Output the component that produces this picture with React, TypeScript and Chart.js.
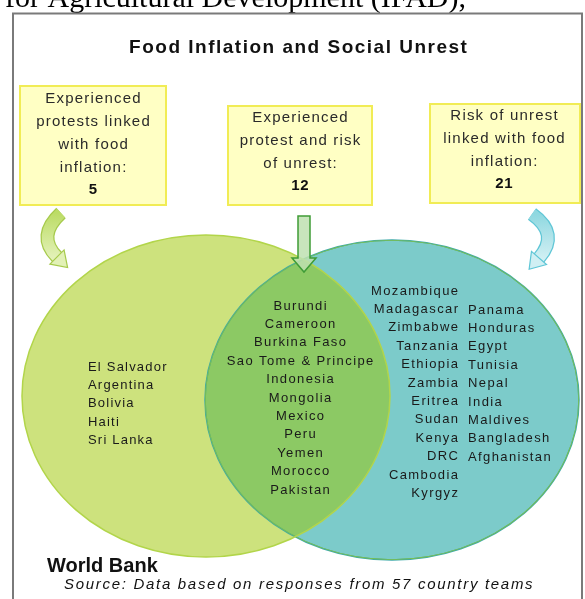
import React, { useEffect, useRef } from "react";
import { Chart, registerables } from "chart.js";

Chart.register(...registerables);

const chartTitle = "Food Inflation and Social Unrest";
const setCounts = [5, 12, 21];
const boxLabels = [
  ["Experienced", "protests linked", "with food", "inflation:"],
  ["Experienced", "protest and risk", "of unrest:"],
  ["Risk of unrest", "linked with food", "inflation:"],
];
const protestOnly = ["El Salvador", "Argentina", "Bolivia", "Haiti", "Sri Lanka"];
const protestAndRisk = [
  "Burundi", "Cameroon", "Burkina Faso", "Sao Tome & Principe", "Indonesia",
  "Mongolia", "Mexico", "Peru", "Yemen", "Morocco", "Pakistan",
];
const riskOnlyA = [
  "Mozambique", "Madagascar", "Zimbabwe", "Tanzania", "Ethiopia", "Zambia",
  "Eritrea", "Sudan", "Kenya", "DRC", "Cambodia", "Kyrgyz",
];
const riskOnlyB = [
  "Panama", "Honduras", "Egypt", "Tunisia", "Nepal", "India", "Maldives",
  "Bangladesh", "Afghanistan",
];
const sourceName = "World Bank";
const sourceNote = "Source: Data based on responses from 57 country teams";
const pageFragment = "for Agricultural Development (IFAD),";

const W = 585;
const H = 599;

const vennPlugin = {
  id: "venn",
  beforeDraw(chart: any) {
    const ctx = chart.ctx;
    ctx.save();
    ctx.fillStyle = "#ffffff";
    ctx.fillRect(0, 0, chart.width, chart.height);
    ctx.restore();
  },
  afterDatasetsDraw(chart: any) {
    const ctx: CanvasRenderingContext2D = chart.ctx;
    const sx = chart.scales.x;
    const sy = chart.scales.y;
    const X = (v: number) => sx.getPixelForValue(v);
    const Y = (v: number) => sy.getPixelForValue(v);
    const LX = (v: number) => X(v) - X(0);
    const LY = (v: number) => Y(v) - Y(0);

    const text = (
      s: string, x: number, y: number, font: string, align: CanvasTextAlign,
      color = "#222", spacing = 0
    ) => {
      ctx.save();
      ctx.font = font;
      ctx.fillStyle = color;
      ctx.textAlign = align;
      ctx.textBaseline = "middle";
      (ctx as any).letterSpacing = spacing + "px";
      let xx = X(x);
      if (spacing && align === "center") xx += spacing / 2;
      if (spacing && align === "right") xx += spacing;
      ctx.fillText(s, xx, Y(y));
      ctx.restore();
    };

    // page fragment
    ctx.save();
    ctx.font = "30px 'Liberation Serif'";
    ctx.fillStyle = "#000";
    ctx.textBaseline = "alphabetic";
    ctx.fillText(pageFragment, X(5), Y(7));
    ctx.restore();

    // frame
    ctx.save();
    ctx.strokeStyle = "#7a7a7a";
    ctx.lineWidth = 2;
    ctx.strokeRect(X(13), Y(13.5), LX(569), LY(600));
    ctx.restore();

    text(chartTitle, 298, 48, "bold 19px 'Liberation Sans'", "center", "#111", 1.5);

    // boxes
    const boxes = [
      { x: 20, y: 86, w: 146, h: 119, cx: 93, top: 99 },
      { x: 228, y: 106, w: 144, h: 99, cx: 300, top: 118 },
      { x: 430, y: 104, w: 150, h: 99, cx: 504, top: 116 },
    ];
    boxes.forEach((b, i) => {
      ctx.save();
      ctx.fillStyle = "#ffffc4";
      ctx.strokeStyle = "#f1ec55";
      ctx.lineWidth = 2;
      ctx.fillRect(X(b.x), Y(b.y), LX(b.w), LY(b.h));
      ctx.strokeRect(X(b.x), Y(b.y), LX(b.w), LY(b.h));
      ctx.restore();
      const lines = boxLabels[i];
      lines.forEach((l, j) => {
        text(l, b.cx, b.top + j * 23, "15px 'Liberation Sans'", "center", "#2a2a2a", 1.2);
      });
      text(String(setCounts[i]), b.cx, b.top + lines.length * 23 - 1, "bold 15px 'Liberation Sans'", "center", "#111", 0.6);
    });

    // ellipses
    const L = { cx: 206, cy: 396, rx: 184, ry: 161 };
    const R = { cx: 392, cy: 400, rx: 187, ry: 160 };
    const ell = (e: any) => {
      ctx.beginPath();
      ctx.ellipse(X(e.cx), Y(e.cy), LX(e.rx), LY(e.ry), 0, 0, Math.PI * 2);
    };
    ctx.save();
    ell(L);
    ctx.fillStyle = "#cde27d";
    ctx.fill();
    ell(R);
    ctx.fillStyle = "#7ccbca";
    ctx.fill();
    ctx.save();
    ell(L);
    ctx.clip();
    ell(R);
    ctx.fillStyle = "#8cc964";
    ctx.fill();
    ctx.restore();
    ctx.lineWidth = 1.5;
    ell(R);
    ctx.strokeStyle = "#3faaa9";
    ctx.stroke();
    ctx.save();
    ell(R);
    ctx.clip();
    ell(R);
    ctx.strokeStyle = "#7cbf4c";
    ctx.stroke();
    ctx.restore();
    ell(L);
    ctx.strokeStyle = "#b2d54a";
    ctx.stroke();
    ctx.restore();

    // curved arrows
    const curved = (s: number[], c: number[], e: number[], fill: string, fill2: string, border: string) => {
      ctx.save();
      ctx.lineCap = "butt";
      ctx.beginPath();
      ctx.moveTo(X(s[0]), Y(s[1]));
      ctx.quadraticCurveTo(X(c[0]), Y(c[1]), X(e[0]), Y(e[1]));
      ctx.strokeStyle = border;
      ctx.lineWidth = 14;
      ctx.stroke();
      const g = ctx.createLinearGradient(0, Y(s[1]), 0, Y(e[1]));
      g.addColorStop(0, fill);
      g.addColorStop(1, fill2);
      ctx.strokeStyle = g;
      ctx.lineWidth = 11.5;
      ctx.stroke();
      const dx = e[0] - c[0];
      const dy = e[1] - c[1];
      const len = Math.hypot(dx, dy);
      const ux = dx / len, uy = dy / len;
      const nx = -uy, ny = ux;
      const hw = 10, hl = 15;
      ctx.beginPath();
      ctx.moveTo(X(e[0] + nx * hw), Y(e[1] + ny * hw));
      ctx.lineTo(X(e[0] + ux * hl), Y(e[1] + uy * hl));
      ctx.lineTo(X(e[0] - nx * hw), Y(e[1] - ny * hw));
      ctx.closePath();
      ctx.fillStyle = fill2;
      ctx.fill();
      ctx.strokeStyle = border;
      ctx.lineWidth = 1.2;
      ctx.stroke();
      ctx.restore();
    };
    curved([61, 213], [36, 236], [57, 257], "#bcdc66", "#e2f1b6", "#a6ca4c");
    curved([532, 214], [560, 234], [539, 258], "#8fd8e0", "#d0eff3", "#5fc6d6");

    // straight arrow
    ctx.save();
    ctx.beginPath();
    ctx.moveTo(X(298), Y(216));
    ctx.lineTo(X(310), Y(216));
    ctx.lineTo(X(310), Y(258));
    ctx.lineTo(X(316), Y(258));
    ctx.lineTo(X(304), Y(272));
    ctx.lineTo(X(292), Y(258));
    ctx.lineTo(X(298), Y(258));
    ctx.closePath();
    ctx.fillStyle = "rgba(190, 224, 176, 0.85)";
    ctx.fill();
    ctx.strokeStyle = "#3f9c36";
    ctx.lineWidth = 1.5;
    ctx.stroke();
    ctx.restore();

    // country lists
    const cf = "13px 'Liberation Sans'";
    const sp = 1.4;
    const step = 18.4;
    protestOnly.forEach((s, i) => text(s, 88, 367 + i * step, cf, "left", "#1a1a1a", 1.2));
    protestAndRisk.forEach((s, i) => text(s, 300, 306 + i * step, cf, "center", "#1a1a1a", sp));
    riskOnlyA.forEach((s, i) => text(s, 458, 291 + i * step, cf, "right", "#1a1a1a", sp));
    riskOnlyB.forEach((s, i) => text(s, 468, 310 + i * step, cf, "left", "#1a1a1a", sp));

    // footer
    text(sourceName, 47, 566, "bold 20px 'Liberation Sans'", "left", "#111", 0);
    text(sourceNote, 64, 585, "italic 15px 'Liberation Sans'", "left", "#111", 1.7);
  },
};

export default function App() {
  const ref = useRef<HTMLCanvasElement | null>(null);
  useEffect(() => {
    document.body.style.margin = "0";
    const canvas = ref.current!;
    const chart = new Chart(canvas, {
      type: "scatter",
      data: { datasets: [{ data: [], pointRadius: 0 }] },
      options: {
        animation: false,
        responsive: false,
        devicePixelRatio: 1,
        layout: { padding: 0 },
        plugins: { legend: { display: false }, tooltip: { enabled: false }, title: { display: false } },
        scales: {
          x: { type: "linear", min: 0, max: W, display: false },
          y: { type: "linear", min: 0, max: H, reverse: true, display: false },
        },
      },
      plugins: [vennPlugin],
    });
    return () => chart.destroy();
  }, []);
  return (
    <div style={{ width: W, height: H }}>
      <canvas ref={ref} width={W} height={H} style={{ display: "block" }} />
    </div>
  );
}
